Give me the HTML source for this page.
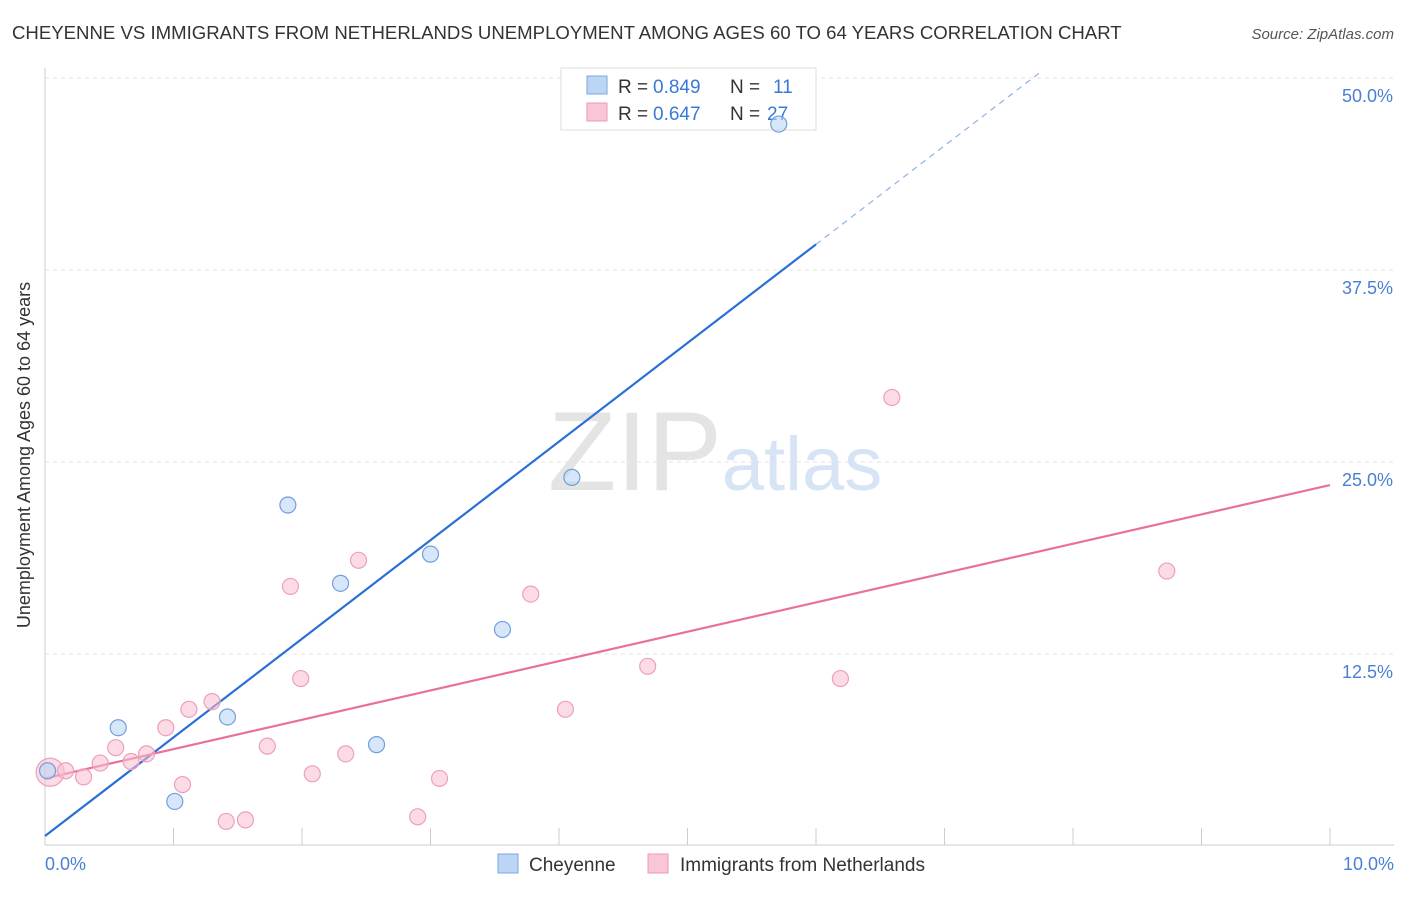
<!DOCTYPE html>
<html><head><meta charset="utf-8"><style>
body{margin:0;background:#fff;font-family:"Liberation Sans",sans-serif;}
svg text{font-family:"Liberation Sans",sans-serif;}
</style></head><body>
<svg width="1406" height="892">
<text x="12" y="39" font-size="18.6" fill="#333">CHEYENNE VS IMMIGRANTS FROM NETHERLANDS UNEMPLOYMENT AMONG AGES 60 TO 64 YEARS CORRELATION CHART</text>
<text x="1394" y="39" font-size="15" fill="#555" text-anchor="end" font-style="italic">Source: ZipAtlas.com</text>
<g id="grid"></g>
<text x="635" y="490" font-size="112" fill="#e4e4e4" font-family="Liberation Serif" text-anchor="middle">ZIP</text>
<text x="802" y="490" font-size="76" fill="#d6e4f5" text-anchor="middle">atlas</text>
<g>
<rect x="561" y="68" width="255" height="62" fill="#fff" stroke="#ddd"/>
<rect x="587" y="76" width="20" height="18" fill="#bcd5f5" stroke="#7aa6e0"/>
<rect x="587" y="103" width="20" height="18" fill="#f9c6d6" stroke="#ec9ab4"/>
<text x="618" y="93" font-size="19" fill="#333">R =</text>
<text x="653" y="93" font-size="19" fill="#3a78d8">0.849</text>
<text x="730" y="93" font-size="19" fill="#333">N =</text>
<text x="773" y="93" font-size="19" fill="#3a78d8">11</text>
<text x="618" y="120" font-size="19" fill="#333">R =</text>
<text x="653" y="120" font-size="19" fill="#3a78d8">0.647</text>
<text x="730" y="120" font-size="19" fill="#333">N =</text>
<text x="767" y="120" font-size="19" fill="#3a78d8">27</text>
</g>
<g id="marks"></g>
<text x="30" y="455" font-size="18" fill="#333" text-anchor="middle" transform="rotate(-90 30 455)">Unemployment Among Ages 60 to 64 years</text>
<text x="45" y="870" font-size="18" fill="#4a7fd4">0.0%</text>
<text x="1394" y="870" font-size="18" fill="#4a7fd4" text-anchor="end">10.0%</text>
<g>
<rect x="498" y="854" width="20" height="19" fill="#bcd5f5" stroke="#7aa6e0"/>
<text x="529" y="871" font-size="19" fill="#333">Cheyenne</text>
<rect x="648" y="854" width="20" height="19" fill="#f9c6d6" stroke="#ec9ab4"/>
<text x="680" y="871" font-size="19" fill="#333">Immigrants from Netherlands</text>
</g>
</svg>
<script>
const yTicks=[12.5,25.0,37.5,50.0];
const xTickCount=10;
const cheyX=[0.02,0.57,1.01,1.42,1.89,2.30,2.58,3.00,3.56,4.10,5.71];
const cheyY=[4.9,7.7,2.9,8.4,22.2,17.1,6.6,19.0,14.1,24.0,47.0];
const nethX=[0.04,0.16,0.30,0.43,0.55,0.67,0.79,0.94,1.07,1.12,1.30,1.41,1.56,1.73,1.91,1.99,2.08,2.34,2.44,2.90,3.07,3.78,4.05,4.69,6.19,6.59,8.73];
const nethY=[4.8,4.9,4.5,5.4,6.4,5.5,6.0,7.7,4.0,8.9,9.4,1.6,1.7,6.5,16.9,10.9,4.7,6.0,18.6,1.9,4.4,16.4,8.9,11.7,10.9,29.2,17.9];
const cheyLine=[0,0.65,10,64.85];
const nethLine=[0,4.4,10,23.5];
const X=v=>45+v*128.5, Y=v=>846-v*15.36;
const NS='http://www.w3.org/2000/svg';
function mk(t,a,p){const e=document.createElementNS(NS,t);for(const k in a)e.setAttribute(k,a[k]);p.appendChild(e);return e;}
const g=document.getElementById('grid'), m=document.getElementById('marks');
mk('line',{x1:45,y1:68,x2:45,y2:845,stroke:'#ccc'},g);
mk('line',{x1:45,y1:845,x2:1394,y2:845,stroke:'#ccc'},g);
yTicks.forEach(v=>{
 const l=mk('line',{x1:45,y1:Y(v),x2:1394,y2:Y(v),stroke:'#e3e3e3','stroke-dasharray':'4,4'},g);
 
 
 const t=mk('text',{x:1393,y:Y(v)+24,'font-size':18,fill:'#4a7fd4','text-anchor':'end'},g);
 t.textContent=v.toFixed(1)+'%';
 
 
});
for(let i=0;i<=xTickCount;i++){
 const l=mk('line',{x1:X(i),y1:828,x2:X(i),y2:845,stroke:'#ccc'},g);
 
 
}
const bs=(cheyLine[3]-cheyLine[1])/(cheyLine[2]-cheyLine[0]);
const by=x=>cheyLine[1]+bs*x;
const xEnd=(50.5-cheyLine[1])/bs;
let l=mk('line',{x1:X(0),y1:Y(by(0)),x2:X(6.0),y2:Y(by(6.0)),stroke:'#2a6fd6','stroke-width':2.2},m);


l=mk('line',{x1:X(6.0),y1:Y(by(6.0)),x2:X(xEnd),y2:Y(by(xEnd)),stroke:'#8fb2e6','stroke-width':1.2,'stroke-dasharray':'6,5'},m);


l=mk('line',{x1:X(nethLine[0]),y1:Y(nethLine[1]),x2:X(nethLine[2]),y2:Y(nethLine[3]),stroke:'#e8709a','stroke-width':2.2},m);


nethX.forEach((x,i)=>{
 const c=mk('circle',{cx:X(x),cy:Y(nethY[i]),r:i==0?14:8,fill:'rgba(249,190,210,0.55)',stroke:'#eca0ba','stroke-width':1.2},m);
 
 
});
cheyX.forEach((x,i)=>{
 const c=mk('circle',{cx:X(x),cy:Y(cheyY[i]),r:8,fill:'rgba(188,213,245,0.6)',stroke:'#6f9fdc','stroke-width':1.2},m);
 
 
});
</script>
</body></html>
